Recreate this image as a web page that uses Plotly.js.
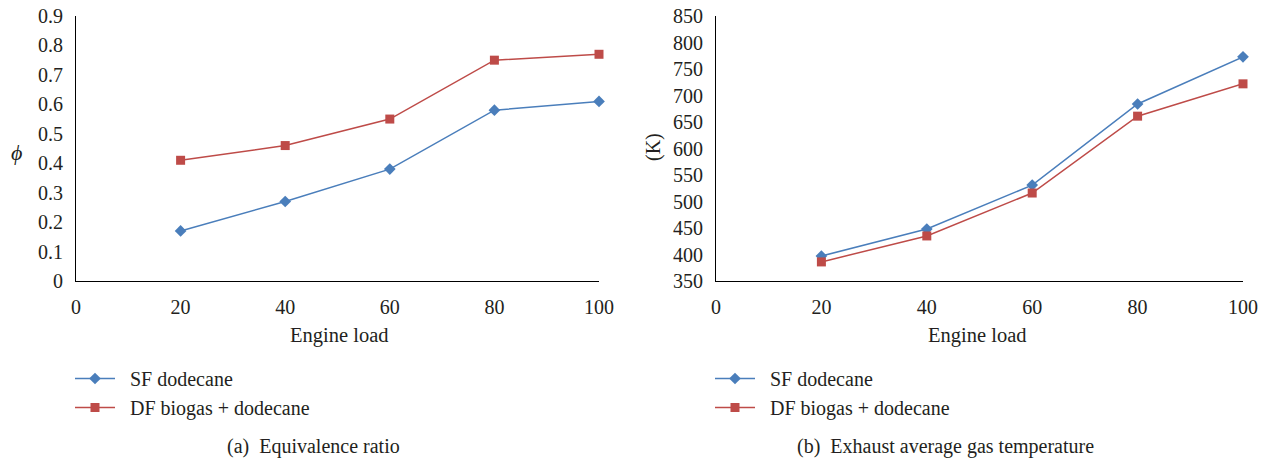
<!DOCTYPE html>
<html>
<head>
<meta charset="utf-8">
<script src="https://cdn.plot.ly/plotly-3.0.1.min.js"></script>
<style>html,body{margin:0;padding:0;background:#fff;}#chart{width:1261px;height:460px;}</style>
</head>
<body>
<div id="chart"></div>
<script>
const engineLoad = [20, 40, 60, 80, 100];
const phiSF = [0.17, 0.27, 0.38, 0.58, 0.61];
const phiDF = [0.41, 0.46, 0.55, 0.75, 0.77];
const tempSF = [397, 448, 531, 684, 773];
const tempDF = [386, 435, 516, 661, 722];
const seriesNames = ["SF dodecane", "DF biogas + dodecane"];
const xTicks = [0, 20, 40, 60, 80, 100];

const W = 1261, H = 460;
const FONT = "'Liberation Serif', 'DejaVu Serif', serif";
const TXT = "#231f20";
const BLUE = "#4a7ebb", RED = "#be4b48";

function px(x){ return x / W; }
function py(y){ return 1 - y / H; }

const sfStyle = {mode: "lines+markers", line: {color: BLUE, width: 1.5}, marker: {symbol: "diamond", size: 9, color: BLUE}};
const dfStyle = {mode: "lines+markers", line: {color: RED, width: 1.5}, marker: {symbol: "square", size: 9, color: RED}};
const pad = "\u2002";

const traces = [
  Object.assign({x: engineLoad, y: phiSF, name: pad + seriesNames[0], xaxis: "x", yaxis: "y", legend: "legend"}, sfStyle),
  Object.assign({x: engineLoad, y: phiDF, name: pad + seriesNames[1], xaxis: "x", yaxis: "y", legend: "legend"}, dfStyle),
  Object.assign({x: engineLoad, y: tempSF, name: pad + seriesNames[0], xaxis: "x2", yaxis: "y2", legend: "legend2"}, sfStyle),
  Object.assign({x: engineLoad, y: tempDF, name: pad + seriesNames[1], xaxis: "x2", yaxis: "y2", legend: "legend2"}, dfStyle)
];
traces.forEach(t => t.cliponaxis = false);

const tickFont = {family: FONT, size: 20, color: TXT};
const common = {showline: true, linecolor: "#000", linewidth: 1, showgrid: false, zeroline: false, ticks: "", tickfont: tickFont, ticklabelstandoff: 8, fixedrange: true};

const yDom = [py(281), py(16)];
const legFont = {family: FONT, size: 20, color: TXT};
const layout = {
  width: W, height: H,
  margin: {l: 0, r: 0, t: 0, b: 0},
  paper_bgcolor: "#fff", plot_bgcolor: "#fff",
  font: {family: FONT, color: TXT},
  xaxis: Object.assign({}, common, {domain: [px(76), px(599)], range: [0, 100], tickvals: xTicks, anchor: "y"}),
  yaxis: Object.assign({}, common, {domain: yDom, range: [0, 0.9], dtick: 0.1, tick0: 0, anchor: "x"}),
  xaxis2: Object.assign({}, common, {domain: [px(716), px(1243)], range: [0, 100], tickvals: xTicks, anchor: "y2"}),
  yaxis2: Object.assign({}, common, {domain: yDom, range: [350, 850], dtick: 50, tick0: 350, anchor: "x2"}),
  legend: {x: px(70), y: py(359), xanchor: "left", yanchor: "top", font: legFont, bgcolor: "rgba(0,0,0,0)", itemwidth: 40, tracegroupgap: 0},
  legend2: {x: px(710), y: py(359), xanchor: "left", yanchor: "top", font: legFont, bgcolor: "rgba(0,0,0,0)", itemwidth: 40, tracegroupgap: 0},
  showlegend: true,
  annotations: [
    {text: "<i>ϕ</i>", xref: "paper", yref: "paper", x: px(16), y: py(152), showarrow: false, font: {family: FONT, size: 22, color: TXT}, xanchor: "center", yanchor: "middle"},
    {text: "(K)", xref: "paper", yref: "paper", x: px(653), y: py(147), showarrow: false, textangle: -90, font: {family: FONT, size: 20, color: TXT}, xanchor: "center", yanchor: "middle"},
    {text: "Engine load", xref: "paper", yref: "paper", x: px(339), y: py(335), showarrow: false, font: {family: FONT, size: 20.5, color: TXT}, xanchor: "center", yanchor: "middle"},
    {text: "Engine load", xref: "paper", yref: "paper", x: px(977), y: py(335), showarrow: false, font: {family: FONT, size: 20.5, color: TXT}, xanchor: "center", yanchor: "middle"},
    {text: "(a)\u00a0\u00a0Equivalence ratio", xref: "paper", yref: "paper", x: px(313), y: py(446), showarrow: false, font: {family: FONT, size: 20, color: TXT}, xanchor: "center", yanchor: "middle"},
    {text: "(b)\u00a0\u00a0Exhaust average gas temperature", xref: "paper", yref: "paper", x: px(945), y: py(446), showarrow: false, font: {family: FONT, size: 20, color: TXT}, xanchor: "center", yanchor: "middle"}
  ]
};

Plotly.newPlot("chart", traces, layout, {displayModeBar: false, staticPlot: true});
</script>
</body>
</html>
